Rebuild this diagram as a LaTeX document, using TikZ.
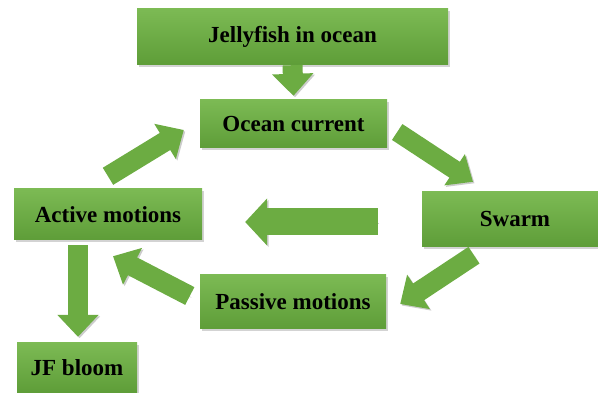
\documentclass[tikz,border=0pt]{standalone}
\usepackage{fontspec}
\setmainfont{Liberation Serif}
\usepackage{xcolor}
\usetikzlibrary{arrows.meta,shadows}
\definecolor{boxtop}{RGB}{124,186,84}
\definecolor{boxbot}{RGB}{94,157,56}
\definecolor{arrgreen}{RGB}{108,172,66}

\begin{document}
\begin{tikzpicture}[x=1pt, y=1pt, font=\fontsize{23}{27}\selectfont\bfseries]
  \tikzset{stage/.style={rectangle, inner sep=0pt,
      top color=boxtop, bottom color=boxbot,
      drop shadow={shadow xshift=2pt, shadow yshift=-2pt, opacity=0.35}}}
  \tikzset{flow/.style={draw=arrgreen, line width=20pt,
      -{Triangle[width=40pt, length=22pt]},
      preaction={draw=black, opacity=0.2,
        transform canvas={shift={(1.5pt,-1.5pt)}}}}}

  \useasboundingbox (0,0) rectangle (598,393);

  \node[stage, minimum width=311pt, minimum height=56pt] (jf) at (292.5,356) {Jellyfish in ocean};
  \node[stage, minimum width=187pt, minimum height=48pt] (oc) at (293.5,269) {Ocean current};
  \node[stage, minimum width=186pt, minimum height=55pt] (sw) at (515,173.5) {Swarm};
  \node[stage, minimum width=188pt, minimum height=51pt] (am) at (108,178.5) {Active motions};
  \node[stage, minimum width=186pt, minimum height=54pt] (pa) at (293,91) {Passive motions};
  \node[stage, minimum width=120pt, minimum height=50pt] (jfb) at (77,25) {JF bloom};

  \draw[flow] (jf.south) -- ([yshift=4pt]oc.north);
  \draw[flow, line width=19pt, -{Triangle[width=36pt, length=22pt]}]
    ([shift={(10,-8)}]oc.east) -- ([shift={(-42,10)}]sw.north);
  \draw[flow] ([shift={(-41,-8)}]sw.south) -- ([shift={(14,-2)}]pa.east);
  \draw[flow, line width=27pt, -{Triangle[width=46pt, length=22pt]}]
    ([shift={(-44,-2.5)}]sw.west) -- ([shift={(43,-7.5)}]am.east);
  \draw[flow] ([shift={(-10,6)}]pa.west) -- ([shift={(5,-16)}]am.south);
  \draw[flow] ([shift={(0,12.5)}]am.north) -- ([shift={(-16,-6)}]oc.west);
  \draw[flow] ([shift={(-30,-5)}]am.south) -- ([shift={(1,6)}]jfb.north);
\end{tikzpicture}
\end{document}
